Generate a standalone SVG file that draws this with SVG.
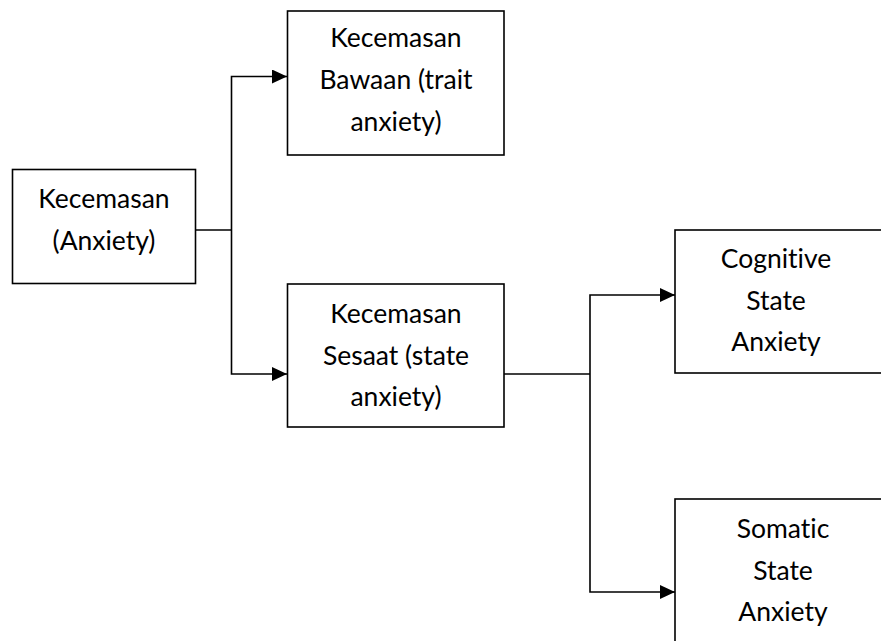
<svg xmlns="http://www.w3.org/2000/svg" width="881" height="641" viewBox="0 0 881 641">
<style>
.box{fill:#fff;stroke:#000;stroke-width:1.6}
.t{font-family:Lato,"Open Sans","Liberation Sans",sans-serif;font-size:26.5px;fill:#000;text-anchor:middle;font-variant-ligatures:none}
.c{fill:none;stroke:#000;stroke-width:1.6}
</style>
<defs>
<marker id="ah" markerUnits="userSpaceOnUse" markerWidth="16" markerHeight="14" refX="15" refY="7" orient="auto">
<polygon points="0,0 15,7 0,14" fill="#000"/>
</marker>
</defs>
<g id="connectors">
<polyline class="c" points="195,230 231.5,230"/>
<polyline class="c" points="231.5,230 231.5,76.5 287,76.5" marker-end="url(#ah)"/>
<polyline class="c" points="231.5,230 231.5,374 287,374" marker-end="url(#ah)"/>
<polyline class="c" points="504,374 590,374"/>
<polyline class="c" points="590,374 590,295 675,295" marker-end="url(#ah)"/>
<polyline class="c" points="590,374 590,592 675,592" marker-end="url(#ah)"/>
</g>
<g id="anxiety">
<rect class="box" x="12.5" y="169.5" width="183" height="114"/>
<text class="t" x="104" y="208">Kecemasan</text>
<text class="t" x="104" y="250">(Anxiety)</text>
</g>
<g id="trait">
<rect class="box" x="287.5" y="11" width="216.5" height="144"/>
<text class="t" x="396" y="47">Kecemasan</text>
<text class="t" x="396" y="89">Bawaan (trait</text>
<text class="t" x="396" y="131">anxiety)</text>
</g>
<g id="state">
<rect class="box" x="287.5" y="284" width="216.5" height="143"/>
<text class="t" x="396" y="323">Kecemasan</text>
<text class="t" x="396" y="365">Sesaat (state</text>
<text class="t" x="396" y="406">anxiety)</text>
</g>
<g id="cognitive">
<rect class="box" x="675" y="230" width="220" height="143"/>
<text class="t" x="776" y="268">Cognitive</text>
<text class="t" x="776" y="310">State</text>
<text class="t" x="776" y="351">Anxiety</text>
</g>
<g id="somatic">
<rect class="box" x="675" y="499" width="220" height="160"/>
<text class="t" x="783" y="538">Somatic</text>
<text class="t" x="783" y="580">State</text>
<text class="t" x="783" y="621">Anxiety</text>
</g>
</svg>
